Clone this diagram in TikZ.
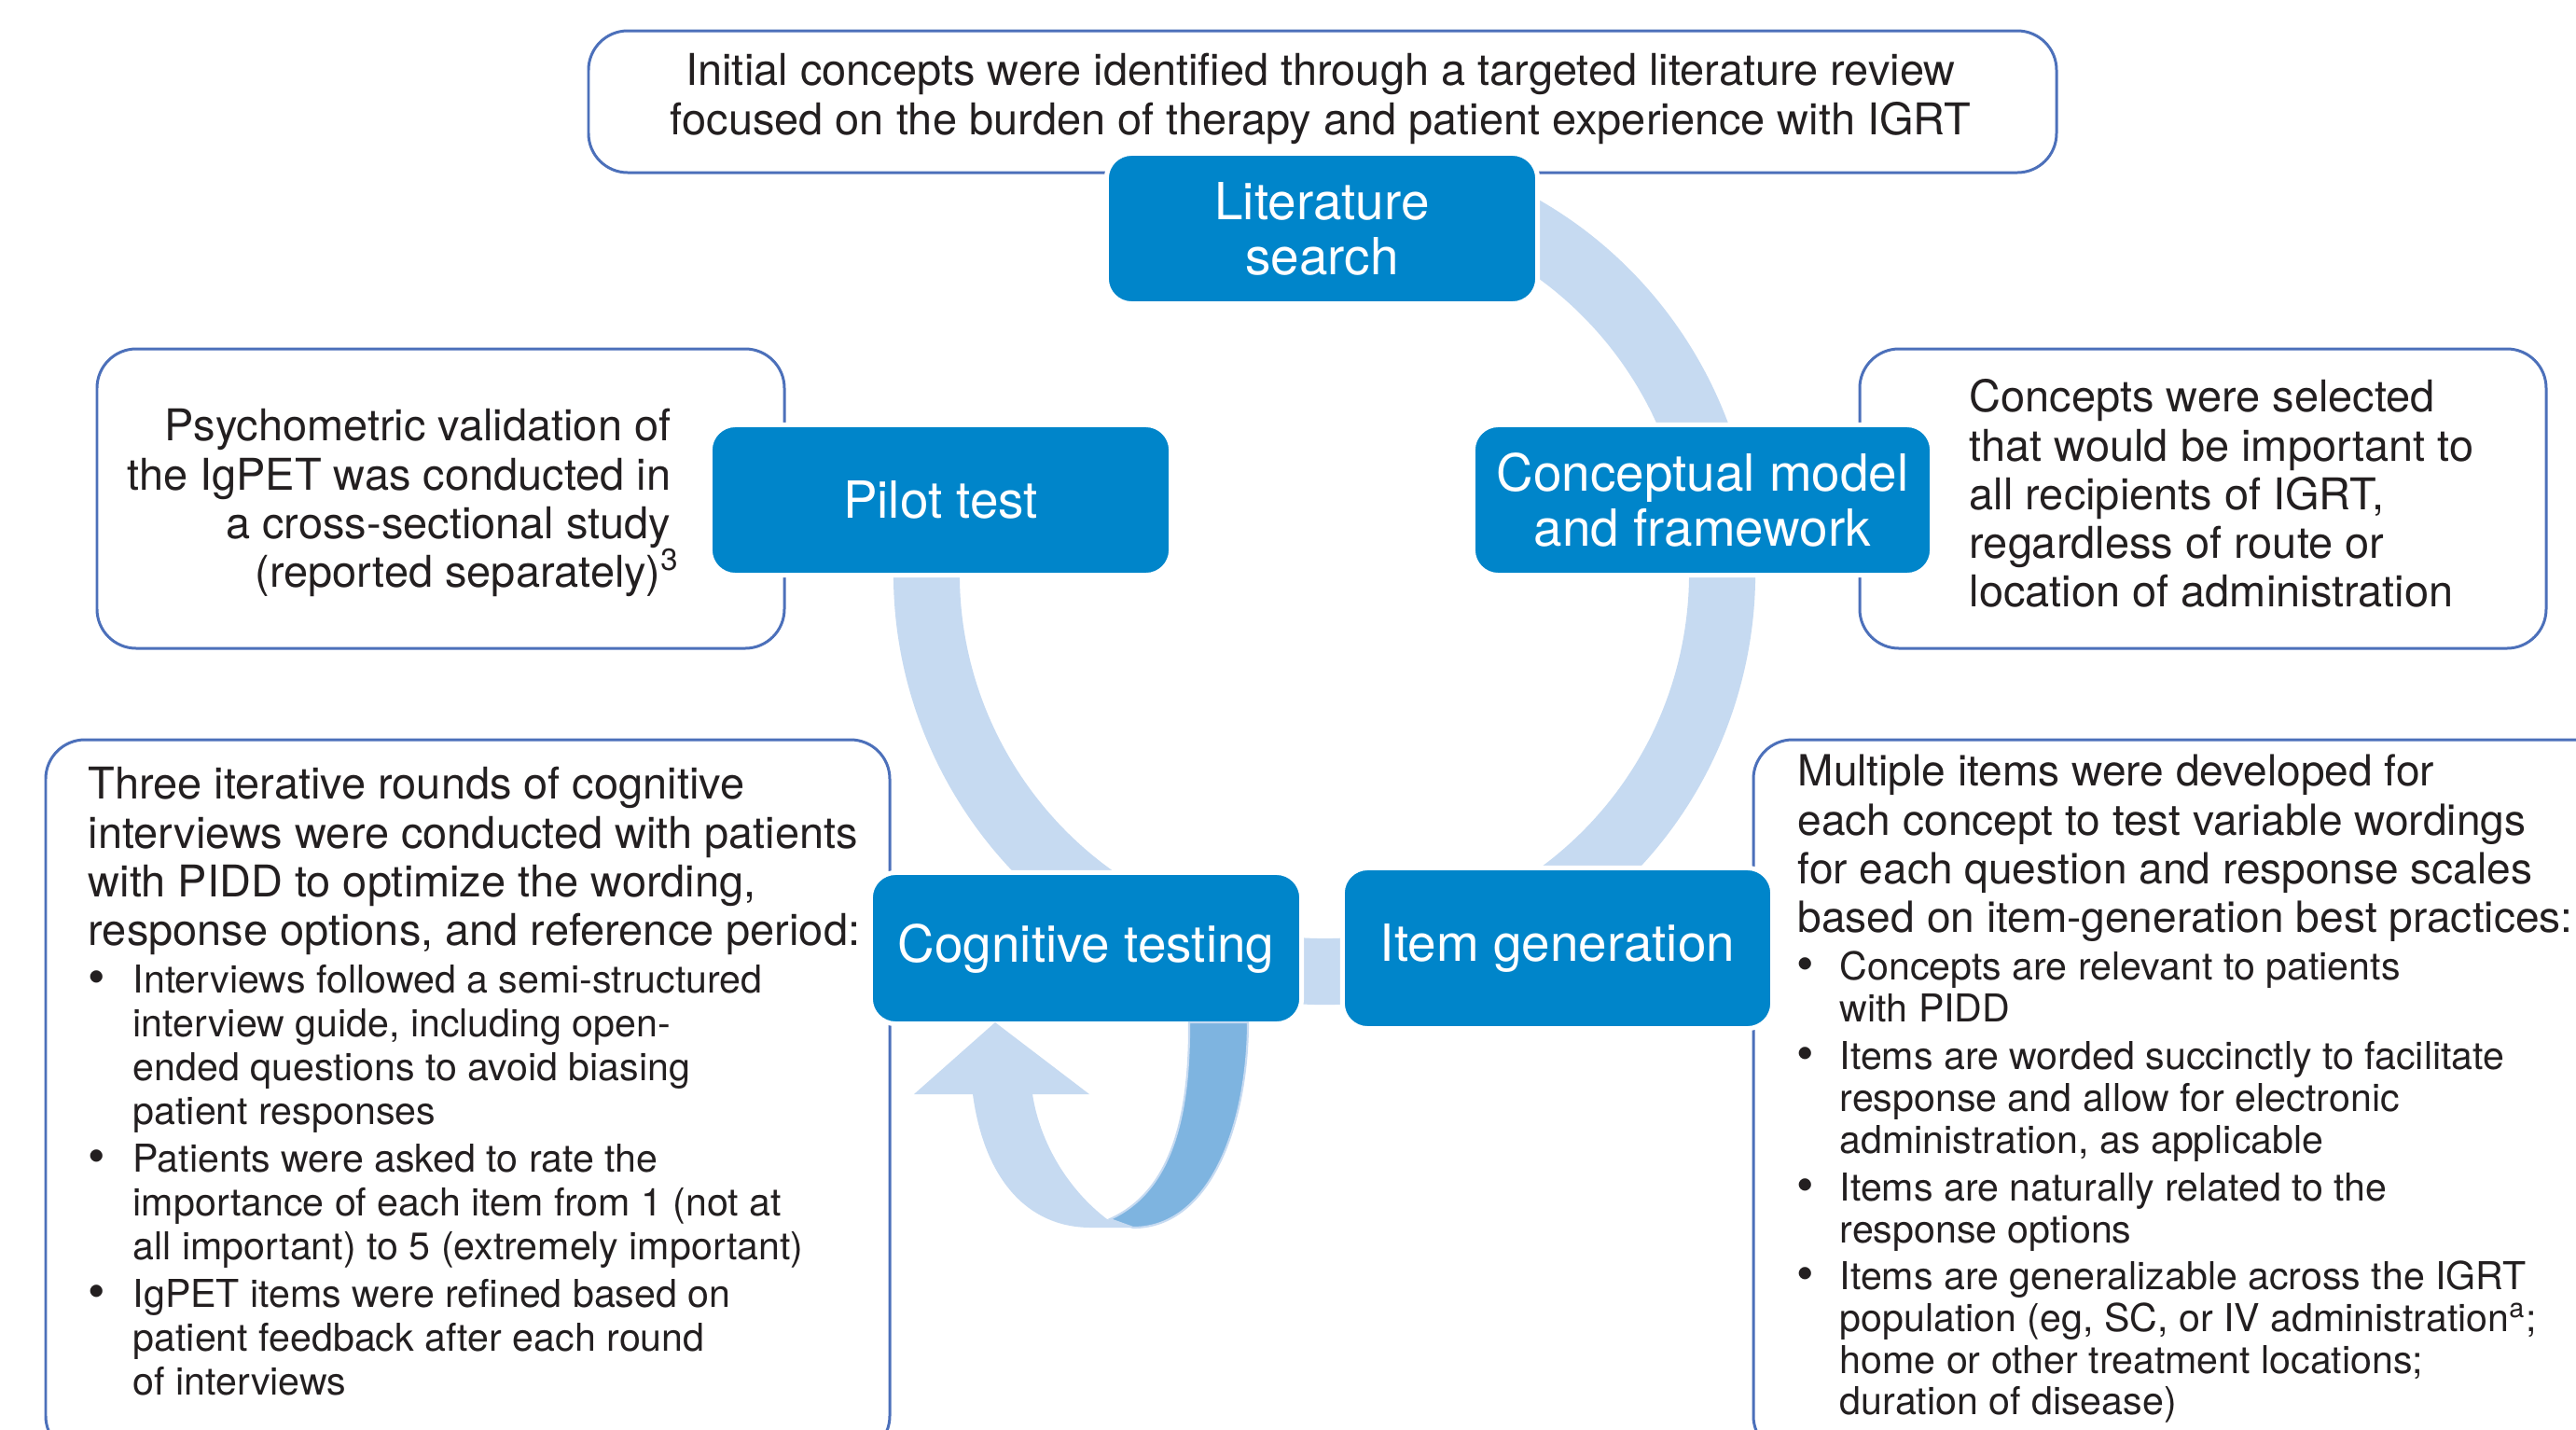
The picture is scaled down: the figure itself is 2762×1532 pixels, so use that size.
\documentclass[tikz,border=0pt]{standalone}
\usepackage{fontspec}
\setmainfont{TeX Gyre Heros}
\definecolor{boxblue}{RGB}{0,133,202}
\definecolor{ringblue}{RGB}{198,218,241}
\definecolor{loopdark}{RGB}{126,180,224}
\definecolor{edgeblue}{RGB}{76,112,186}
\definecolor{ink}{RGB}{35,31,32}
\newcommand{\blt}[1]{\llap{\raisebox{-0.3pt}{\fontsize{15pt}{15pt}\selectfont\textbullet}\hspace{#1}}}
\begin{document}
\begin{tikzpicture}[x=0.01cm,y=-0.01cm,
  textbox/.style={draw=edgeblue, line width=0.85pt, fill=white, rounded corners=0.42cm},
  stage/.style={fill=boxblue, draw=white, line width=1.42pt, rounded corners=0.27cm,
    text=white, inner sep=0pt, align=center, font=\fontsize{15.6pt}{16.8pt}\selectfont},
  body/.style={text=ink, inner sep=0pt, font=\fontsize{13.35pt}{14.85pt}\selectfont},
  bodyR/.style={text=ink, inner sep=0pt, font=\fontsize{13.1pt}{14.85pt}\selectfont},
  bulL/.style={text=ink, inner sep=0pt, align=left, anchor=base west, font=\fontsize{11.7pt}{13.3pt}\selectfont},
  bulR/.style={text=ink, inner sep=0pt, align=left, anchor=base west, font=\fontsize{11.7pt}{12.7pt}\selectfont},
]
\useasboundingbox (0,0) rectangle (2762,1532);
\clip (0,0) rectangle (2762,1532);
\fill[white] (0,0) rectangle (2762,1532);

% outline text boxes
\draw[textbox] (631,33) rectangle (2205,185);
\draw[textbox] (104,374) rectangle (841,695);
\draw[textbox] (1994,374) rectangle (2730,695);
\draw[textbox] (49,793) rectangle (954,1560);
\draw[textbox] (1880,793) rectangle (2820,1560);

% cycle ring
\fill[ringblue] (1420,615) ++(-75:462) arc[start angle=-75, end angle=190, radius=462]
  -- ([shift={(1420,615)}]190:391) arc[start angle=190, end angle=-75, radius=391] -- cycle;

% stage boxes
\node[stage, minimum width=4.62cm, minimum height=1.61cm] (lit) at (1417.5,245) {Literature\\search};
\node[stage, minimum width=4.94cm, minimum height=1.61cm] (pilot) at (1008.5,536) {Pilot test};
\node[stage, minimum width=4.92cm, minimum height=1.61cm] (concept) at (1825.5,536) {Conceptual model\\and framework};
\node[stage, minimum width=4.62cm, minimum height=1.62cm] (cog) at (1164.5,1016.5) {Cognitive testing};
\node[stage, minimum width=4.61cm, minimum height=1.72cm] (item) at (1670,1016.5) {Item generation};

% loop arrow under cognitive testing
\fill[ringblue] (980,1173) -- (1067,1096) -- (1168,1173) -- (1107,1173)
  .. controls (1115,1225) and (1145,1275) .. (1187,1307) -- (1217,1316) -- (1170,1316)
  .. controls (1100,1316) and (1055,1262) .. (1043,1173) -- cycle;
\filldraw[fill=loopdark, draw=ringblue, line width=0.6pt] (1275,1096) -- (1338,1096)
  .. controls (1338,1200) and (1300,1316) .. (1215,1316) -- (1190,1307)
  .. controls (1250,1280) and (1276,1210) .. (1275,1096) -- cycle;

% texts (base anchor = baseline of the last line)
\node[body, align=center, anchor=base] (toptext) at (1416,144)
  {Initial concepts were identified through a targeted literature review\\focused on the burden of therapy and patient experience with IGRT};
\node[body, align=right, anchor=base east] (pilottext) at (720,629.6)
  {Psychometric validation of\\the IgPET was conducted in\\a cross-sectional study\\(reported separately)\textsuperscript{3}\kern-2.6pt};
\node[body, align=left, anchor=base west] (concepttext) at (2111,650.8)
  {Concepts were selected\\that would be important to\\all recipients of IGRT,\\regardless of route or\\location of administration};

\node[body, align=left, anchor=base west] (cogtext) at (94,1013.6)
  {Three iterative rounds of cognitive\\interviews were conducted with patients\\with PIDD to optimize the wording,\\response options, and reference period:};
\node[bulL] (cogb1) at (142,1205)
  {\blt{8.5pt}Interviews followed a semi-structured\\interview guide, including open-\\ended questions to avoid biasing\\patient responses};
\node[bulL] (cogb2) at (142,1350.4)
  {\blt{8.5pt}Patients were asked to rate the\\importance of each item from 1 (not at\\all important) to 5 (extremely important)};
\node[bulL] (cogb3) at (142,1495.4)
  {\blt{8.5pt}IgPET items were refined based on\\patient feedback after each round\\of interviews};

\node[bodyR, align=left, anchor=base west] (itemtext) at (1927,999.6)
  {Multiple items were developed for\\each concept to test variable wordings\\for each question and response scales\\based on item-generation best practices:};
\node[bulR] (itemb1) at (1972,1095)
  {\blt{7.9pt}Concepts are relevant to patients\\with PIDD};
\node[bulR] (itemb2) at (1972,1236.2)
  {\blt{7.9pt}Items are worded succinctly to facilitate\\response and allow for electronic\\administration, as applicable};
\node[bulR] (itemb3) at (1972,1332)
  {\blt{7.9pt}Items are naturally related to the\\response options};
\node[bulR] (itemb4) at (1972,1516.8)
  {\blt{7.9pt}Items are generalizable across the IGRT\\population (eg, SC, or IV administration\textsuperscript{a};\\home or other treatment locations;\\duration of disease)};
\end{tikzpicture}
\end{document}
